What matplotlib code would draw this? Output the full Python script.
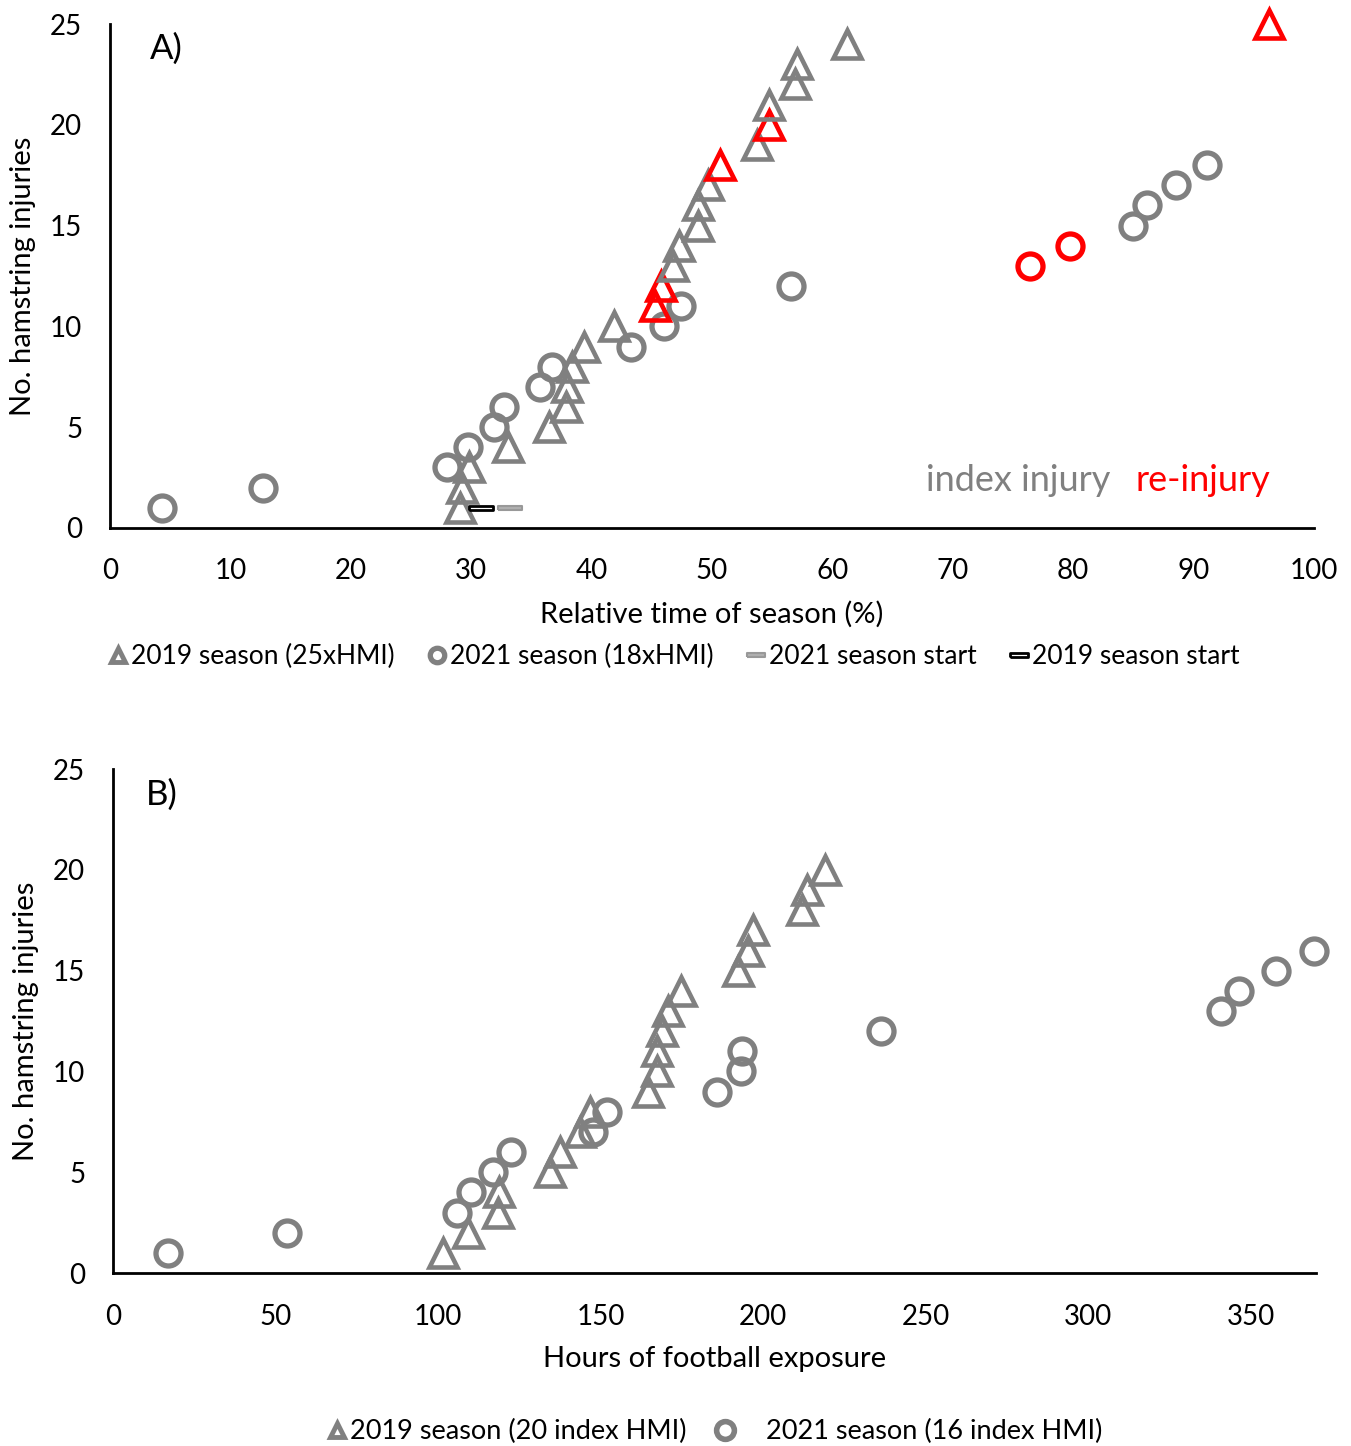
import matplotlib.pyplot as plt
import numpy as np

plt.rcParams['font.family'] = ['Lato', 'DejaVu Sans']

GRAY = "#808080"
RED = "#FF0000"

# ---- Panel A: relative time of season (%) ----
a19_x = [29.1, 29.2, 29.8, 33.1, 36.5, 37.9, 38.0, 38.4, 39.4, 41.9,
         45.3, 45.8, 46.8, 47.3, 48.8, 48.8, 49.7, 50.7, 53.7, 54.7,
         54.7, 56.9, 57.1, 61.2, 96.3]
a19_y = list(range(1, 26))
a19_reinj = [11, 12, 18, 20, 25]

a21_x = [4.3, 12.7, 28.0, 29.7, 31.9, 32.7, 35.7, 36.7, 43.3, 46.0,
         47.4, 56.6, 76.4, 79.7, 85.0, 86.1, 88.5, 91.1]
a21_y = list(range(1, 19))
a21_reinj = [13, 14]

start19 = (30.8, 1)
start21 = (33.2, 1)

# ---- Panel B: hours of football exposure ----
b19_x = [101.5, 109.2, 118.4, 118.8, 134.4, 137.5, 143.6, 146.7, 164.6, 167.3,
         167.3, 168.9, 170.7, 174.7, 192.3, 195.4, 196.9, 211.9, 213.5, 219.0]
b19_y = list(range(1, 21))

b21_x = [16.9, 53.5, 105.8, 110.1, 116.9, 122.4, 147.6, 151.9, 185.8, 193.2,
         193.5, 236.2, 340.8, 346.4, 357.7, 369.4]
b21_y = list(range(1, 17))

tri = dict(marker="^", markersize=20, markeredgewidth=3.3, markerfacecolor="none",
           linestyle="none", clip_on=False)
circ = dict(marker="o", markersize=18, markeredgewidth=3.8, markerfacecolor="none",
            linestyle="none", clip_on=False)
rect = [(-1, -0.2), (1, -0.2), (1, 0.2), (-1, 0.2), (-1, -0.2)]

fig = plt.figure(figsize=(13.51, 14.46), dpi=100)
axA = fig.add_axes([0.0814, 0.6349, 0.8912, 0.3485])
axB = fig.add_axes([0.0836, 0.1196, 0.8905, 0.3485])


def style(ax):
    for s in ["top", "right"]:
        ax.spines[s].set_visible(False)
    for s in ["left", "bottom"]:
        ax.spines[s].set_linewidth(2)
        ax.spines[s].set_color("black")
    ax.tick_params(length=0, labelsize=20)
    ax.tick_params(axis="x", pad=22)
    ax.tick_params(axis="y", pad=20)
    ax.set_ylim(0, 25)
    ax.set_yticks(range(0, 26, 5))


# panel A
style(axA)
axA.set_xlim(0, 100)
axA.set_xticks(range(0, 101, 10))
col19 = [RED if y in a19_reinj else GRAY for y in a19_y]
col21 = [RED if y in a21_reinj else GRAY for y in a21_y]
for x, y, c in zip(a21_x, a21_y, col21):
    axA.plot(x, y, markeredgecolor=c, **circ)
for x, y, c in zip(a19_x, a19_y, col19):
    axA.plot(x, y, markeredgecolor=c, **tri)
h19, = axA.plot([], [], marker="^", markersize=13, markerfacecolor="white", markeredgecolor=GRAY,
                markeredgewidth=3.5, linestyle="none")
h21, = axA.plot([], [], marker="o", markersize=13, markerfacecolor="white", markeredgecolor=GRAY,
                markeredgewidth=3.8, linestyle="none")
hs21, = axA.plot(*start21, marker=rect, markersize=17, markerfacecolor="#B0B0B0",
                 markeredgecolor="#999999", markeredgewidth=1.5, linestyle="none")
hs19, = axA.plot(*start19, marker=rect, markersize=17, markerfacecolor="white",
                 markeredgecolor="black", markeredgewidth=2, linestyle="none")
axA.set_xlabel("Relative time of season (%)", fontsize=21, labelpad=12)
axA.set_ylabel("No. hamstring injuries", fontsize=21, labelpad=10)
axA.text(0.033, 0.95, "A)", transform=axA.transAxes, fontsize=25, va="center")
axA.text(67.8, 2.35, "index injury", color=GRAY, fontsize=26, va="center")
axA.text(85.2, 2.35, "re-injury", color=RED, fontsize=26, va="center")
axA.legend([h19, h21, hs21, hs19],
           ["2019 season (25xHMI)", "2021 season (18xHMI)", "2021 season start", "2019 season start"],
           loc="center", bbox_to_anchor=(0.468, -0.255), ncol=4, frameon=False, fontsize=19,
           handlelength=0.8, handletextpad=0.1, columnspacing=1.2, markerscale=0.8)

# panel B
style(axB)
axB.set_xlim(0, 370)
axB.set_xticks(range(0, 351, 50))
axB.plot(b21_x, b21_y, markeredgecolor=GRAY, **circ)
axB.plot(b19_x, b19_y, markeredgecolor=GRAY, **tri)
g19, = axB.plot([], [], marker="^", markersize=13, markerfacecolor="white", markeredgecolor=GRAY,
                markeredgewidth=3.5, linestyle="none")
g21, = axB.plot([], [], marker="o", markersize=16, markerfacecolor="white", markeredgecolor=GRAY,
                markeredgewidth=4, linestyle="none")
axB.set_xlabel("Hours of football exposure", fontsize=21, labelpad=12)
axB.set_ylabel("No. hamstring injuries", fontsize=21, labelpad=10)
axB.text(0.027, 0.95, "B)", transform=axB.transAxes, fontsize=25, va="center")
axB.legend([g19, g21], ["2019 season (20 index HMI)", "    2021 season (16 index HMI)"],
           loc="center", bbox_to_anchor=(0.5, -0.315), ncol=2, frameon=False, fontsize=19.5,
           handlelength=0.8, handletextpad=0.1, columnspacing=1.0, markerscale=0.8)

fig.savefig("out.png", dpi=100)
